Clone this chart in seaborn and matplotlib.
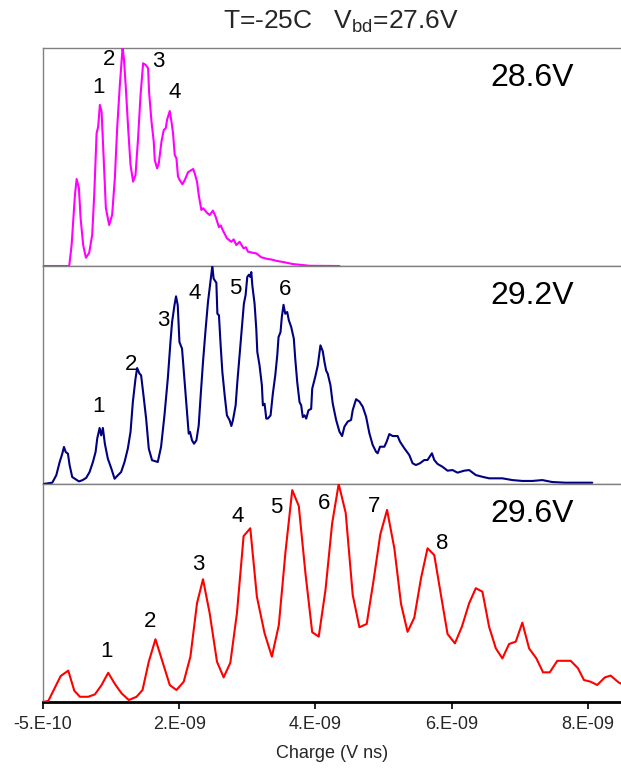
import numpy as np
import pandas as pd
import matplotlib
matplotlib.use("Agg")
import matplotlib.pyplot as plt
import seaborn as sns

# ---- charge spectra (charge in units of 1e-9 V ns, counts in relative units) ----
q_286 = [-0.500, -0.115, -0.080, -0.031, -0.006, 0.027, 0.052, 0.090, 0.130, 0.178,
         0.222, 0.252, 0.287, 0.310, 0.335, 0.360, 0.384, 0.423, 0.471, 0.515,
         0.555, 0.589, 0.628, 0.668, 0.687, 0.716, 0.750, 0.785, 0.823, 0.858,
         0.896, 0.932, 0.970, 1.009, 1.043, 1.057, 1.093, 1.126, 1.141, 1.175,
         1.200, 1.239, 1.273, 1.302, 1.321, 1.361, 1.386, 1.409, 1.434, 1.459,
         1.482, 1.507, 1.547, 1.581, 1.629, 1.679, 1.705, 1.727, 1.761, 1.790,
         1.825, 1.850, 1.874, 1.907, 1.947, 1.995, 2.035, 2.083, 2.110, 2.142,
         2.170, 2.200, 2.265, 2.299, 2.338, 2.386, 2.445, 2.480, 2.508, 2.573,
         2.631, 2.660, 2.704, 2.801, 2.850, 2.924, 3.046, 3.167, 3.291, 3.412, 3.852]
c_286 = [0.0, 0.0, 9.6, 32.6, 39.9, 35.8, 22.0, 9.6, 3.8, 6.0,
         14.2, 32.6, 60.9, 63.9, 73.9, 70.8, 54.1, 26.6, 18.8, 23.4,
         40.4, 63.3, 83.0, 100.0, 95.4, 81.7, 63.3, 46.3, 38.7, 41.7,
         58.7, 78.4, 93.0, 92.2, 90.7, 80.0, 66.2, 57.0, 48.6, 44.8,
         47.1, 57.0, 62.4, 63.2, 67.0, 71.1, 66.2, 60.9, 50.9, 49.4,
         41.0, 39.4, 37.5, 39.4, 43.0, 44.0, 44.5, 42.5, 38.7, 31.8,
         25.7, 26.5, 25.7, 24.4, 23.4, 25.4, 22.6, 17.8, 18.6, 16.2,
         14.6, 12.7, 11.1, 12.2, 9.6, 11.1, 8.1, 8.6, 6.6, 6.1,
         5.8, 5.1, 4.0, 3.2, 3.0, 2.4, 1.7, 0.9, 0.5, 0.1, 0.0]

q_292 = [-0.500, -0.364, -0.305, -0.255, -0.217, -0.192, -0.167, -0.134, -0.109, -0.071,
         -0.021, 0.027, 0.076, 0.134, 0.184, 0.233, 0.272, 0.296, 0.331, 0.354,
         0.379, 0.408, 0.452, 0.501, 0.551, 0.599, 0.647, 0.697, 0.745, 0.785,
         0.819, 0.858, 0.882, 0.917, 0.940, 0.975, 1.014, 1.053, 1.101, 1.185,
         1.233, 1.283, 1.332, 1.371, 1.395, 1.430, 1.453, 1.478, 1.503, 1.541,
         1.576, 1.614, 1.639, 1.658, 1.688, 1.717, 1.752, 1.786, 1.815, 1.849,
         1.884, 1.922, 1.957, 1.986, 2.005, 2.045, 2.060, 2.083, 2.108, 2.133,
         2.167, 2.200, 2.240, 2.265, 2.288, 2.328, 2.353, 2.386, 2.420, 2.449,
         2.474, 2.499, 2.523, 2.543, 2.558, 2.573, 2.606, 2.631, 2.646, 2.679,
         2.713, 2.728, 2.753, 2.778, 2.801, 2.841, 2.874, 2.910, 2.939, 2.958,
         2.987, 3.006, 3.031, 3.056, 3.085, 3.109, 3.144, 3.182, 3.203, 3.232,
         3.266, 3.290, 3.314, 3.339, 3.364, 3.397, 3.437, 3.452, 3.496, 3.534,
         3.573, 3.607, 3.632, 3.657, 3.680, 3.720, 3.753, 3.803, 3.852, 3.891,
         3.925, 3.973, 4.023, 4.047, 4.096, 4.145, 4.193, 4.243, 4.291, 4.340,
         4.389, 4.413, 4.448, 4.511, 4.545, 4.584, 4.633, 4.706, 4.741, 4.804,
         4.877, 4.926, 4.975, 5.034, 5.097, 5.145, 5.210, 5.244, 5.292, 5.365,
         5.439, 5.512, 5.585, 5.683, 5.756, 5.854, 5.951, 6.049, 6.148, 6.244,
         6.391, 6.537, 6.684, 6.830, 6.977, 7.173, 7.368, 7.563]
c_292 = [0.0, 0.6, 4.0, 10.1, 13.9, 17.0, 14.7, 13.9, 8.6, 3.2,
         2.2, 1.2, 1.7, 2.8, 5.5, 10.1, 14.7, 20.8, 25.7, 22.3,
         25.7, 18.5, 11.6, 7.3, 2.4, 4.0, 5.5, 10.1, 16.2, 23.9,
         37.6, 48.3, 53.2, 50.6, 49.9, 40.7, 30.0, 16.2, 10.9, 10.1,
         17.0, 31.5, 48.3, 65.1, 74.3, 82.0, 86.1, 82.0, 65.1, 62.1,
         48.3, 33.0, 23.1, 23.9, 20.0, 18.5, 20.0, 26.9, 40.7, 56.0,
         69.7, 83.5, 92.7, 100.0, 94.2, 92.3, 78.1, 77.4, 63.6, 51.4,
         40.7, 31.5, 29.2, 26.6, 29.2, 36.1, 46.8, 59.0, 71.2, 82.7,
         86.6, 95.0, 96.0, 95.0, 97.2, 91.1, 82.7, 71.2, 60.6, 54.4,
         45.3, 36.1, 36.8, 30.0, 30.0, 31.5, 41.4, 49.9, 59.0, 67.4,
         69.7, 76.6, 82.2, 78.1, 78.9, 75.1, 72.0, 66.7, 57.5, 46.8,
         37.6, 36.1, 30.7, 31.5, 30.0, 33.8, 34.5, 43.7, 49.1, 54.4,
         63.6, 60.9, 56.0, 52.0, 50.6, 45.3, 37.0, 29.4, 24.0, 22.0,
         26.3, 28.6, 29.4, 33.9, 38.9, 37.8, 35.5, 30.9, 23.3, 17.9,
         14.8, 14.1, 17.1, 17.1, 19.4, 22.9, 22.0, 22.0, 19.4, 16.4,
         13.3, 9.5, 8.7, 9.5, 11.0, 11.0, 14.1, 11.0, 9.2, 7.9,
         6.1, 6.4, 5.2, 6.1, 6.4, 4.1, 3.3, 2.6, 2.6, 2.6,
         1.8, 1.4, 1.4, 1.8, 0.9, 0.6, 0.6, 0.6]

q_296 = [-0.500, -0.422, -0.241, -0.129, -0.041, 0.042, 0.164, 0.262, 0.360, 0.457,
         0.555, 0.653, 0.760, 0.873, 0.961, 1.053, 1.151, 1.254, 1.361, 1.459,
         1.566, 1.664, 1.761, 1.849, 1.947, 2.054, 2.152, 2.250, 2.347, 2.445,
         2.543, 2.640, 2.753, 2.860, 2.962, 3.060, 3.159, 3.255, 3.353, 3.452,
         3.548, 3.647, 3.745, 3.841, 3.944, 4.047, 4.145, 4.252, 4.350, 4.452,
         4.551, 4.658, 4.756, 4.852, 4.951, 5.049, 5.145, 5.244, 5.342, 5.439,
         5.547, 5.649, 5.756, 5.854, 5.951, 6.049, 6.148, 6.244, 6.342, 6.441,
         6.537, 6.636, 6.743, 6.841, 6.939, 7.050, 7.148, 7.247, 7.353, 7.441,
         7.540, 7.636, 7.749, 7.833, 7.954, 8.050]
c_296 = [0.0, 0.5, 11.9, 14.4, 5.2, 2.4, 2.4, 3.5, 7.8, 13.4,
         8.3, 4.0, 0.9, 2.4, 5.5, 18.5, 28.8, 18.5, 7.8, 5.5,
         9.3, 20.8, 45.3, 56.3, 40.7, 18.5, 11.3, 18.0, 40.7, 76.1,
         79.7, 48.3, 31.5, 20.8, 35.3, 68.9, 97.2, 89.9, 59.0, 32.0,
         30.0, 51.4, 82.0, 100.0, 86.7, 49.1, 34.3, 35.8, 55.2, 76.9,
         88.1, 70.5, 45.0, 32.2, 38.7, 56.7, 70.5, 67.4, 49.1, 31.2,
         26.9, 34.5, 45.3, 52.2, 50.6, 34.5, 24.6, 20.0, 26.6, 27.7,
         36.4, 24.6, 20.0, 13.6, 13.6, 18.9, 18.9, 18.9, 15.5, 10.1,
         9.3, 7.8, 11.3, 12.1, 8.9, 7.5]

bias_labels = ["28.6V", "29.2V", "29.6V"]
line_colors = ["#FF00FF", "#000080", "#FF0000"]
series = [(q_286, c_286), (q_292, c_292), (q_296, c_296)]

# peak numbers and where they sit (charge in 1e-9 V ns, counts)
peak_text = [
    [("1", 0.310, 82.0), ("2", 0.467, 94.5), ("3", 1.189, 93.7), ("4", 1.434, 79.5)],
    [("1", 0.310, 35.5), ("2", 0.800, 55.0), ("3", 1.263, 75.2), ("4", 1.727, 87.5),
     ("5", 2.323, 89.8), ("6", 3.056, 89.3)],
    [("1", 0.433, 23.1), ("2", 1.078, 36.8), ("3", 1.775, 63.3), ("4", 2.362, 85.0),
     ("5", 2.924, 89.3), ("6", 3.632, 91.1), ("7", 4.364, 89.6), ("8", 5.365, 72.5)],
]

tick_values = [-0.5e-9, 1.5e-9, 3.5e-9, 5.5e-9, 7.5e-9]
tick_labels = ["-5.E-10", "2.E-09", "4.E-09", "6.E-09", "8.E-09"]

sns.set_style("white")
plt.rcParams["font.family"] = ["Liberation Sans", "DejaVu Sans"]
plt.rcParams["mathtext.fontset"] = "custom"
plt.rcParams["mathtext.rm"] = "Liberation Sans"

W, H = 621, 773
fig = plt.figure(figsize=(W / 100, H / 100), dpi=100)

left = 43 / W
width = 579 / W
panel_h = 218 / H
bottoms = [(H - 266) / H, (H - 484) / H, (H - 702) / H]

axes = []
for i, ((q, c), col, lab, peaks) in enumerate(zip(series, line_colors, bias_labels, peak_text)):
    ax = fig.add_axes([left, bottoms[i], width, panel_h])
    df = pd.DataFrame({"charge": np.array(q) * 1e-9, "counts": c})
    sns.lineplot(data=df, x="charge", y="counts", ax=ax, color=col, lw=1.5,
                 estimator=None, sort=False, zorder=3)
    ax.set_xlim(-0.5e-9, 8.0e-9)
    ax.set_ylim(0, max(c))
    ax.set_yticks([])
    ax.set_ylabel("")
    ax.set_xlabel("")
    for s in ax.spines.values():
        s.set_color("#808080")
        s.set_linewidth(1.0)
    ax.text(0.845, 0.862, lab, transform=ax.transAxes, ha="center", va="center",
            fontsize=23, color="black")
    for txt, px, py in peaks:
        ax.text(px * 1e-9, py, txt, ha="center", va="center", fontsize=16, color="black")
    if i < 2:
        ax.tick_params(bottom=False, labelbottom=False)
        ax.set_xticks([])
    axes.append(ax)

axb = axes[-1]
axb.spines["bottom"].set_color("black")
axb.spines["bottom"].set_linewidth(2.0)
axb.set_xticks(tick_values)
axb.set_xticklabels(tick_labels)
axb.tick_params(axis="x", bottom=True, direction="out", length=5, width=1.2,
                color="black", labelsize=13, pad=5)
axb.set_xlabel("Charge (V ns)", fontsize=13, labelpad=9)

fig.text(341 / W, 1 - 22 / H, r"T=-25C   V$_{\mathregular{bd}}$=27.6V",
         ha="center", va="center", fontsize=19)

fig.savefig("out.png", dpi=100)
